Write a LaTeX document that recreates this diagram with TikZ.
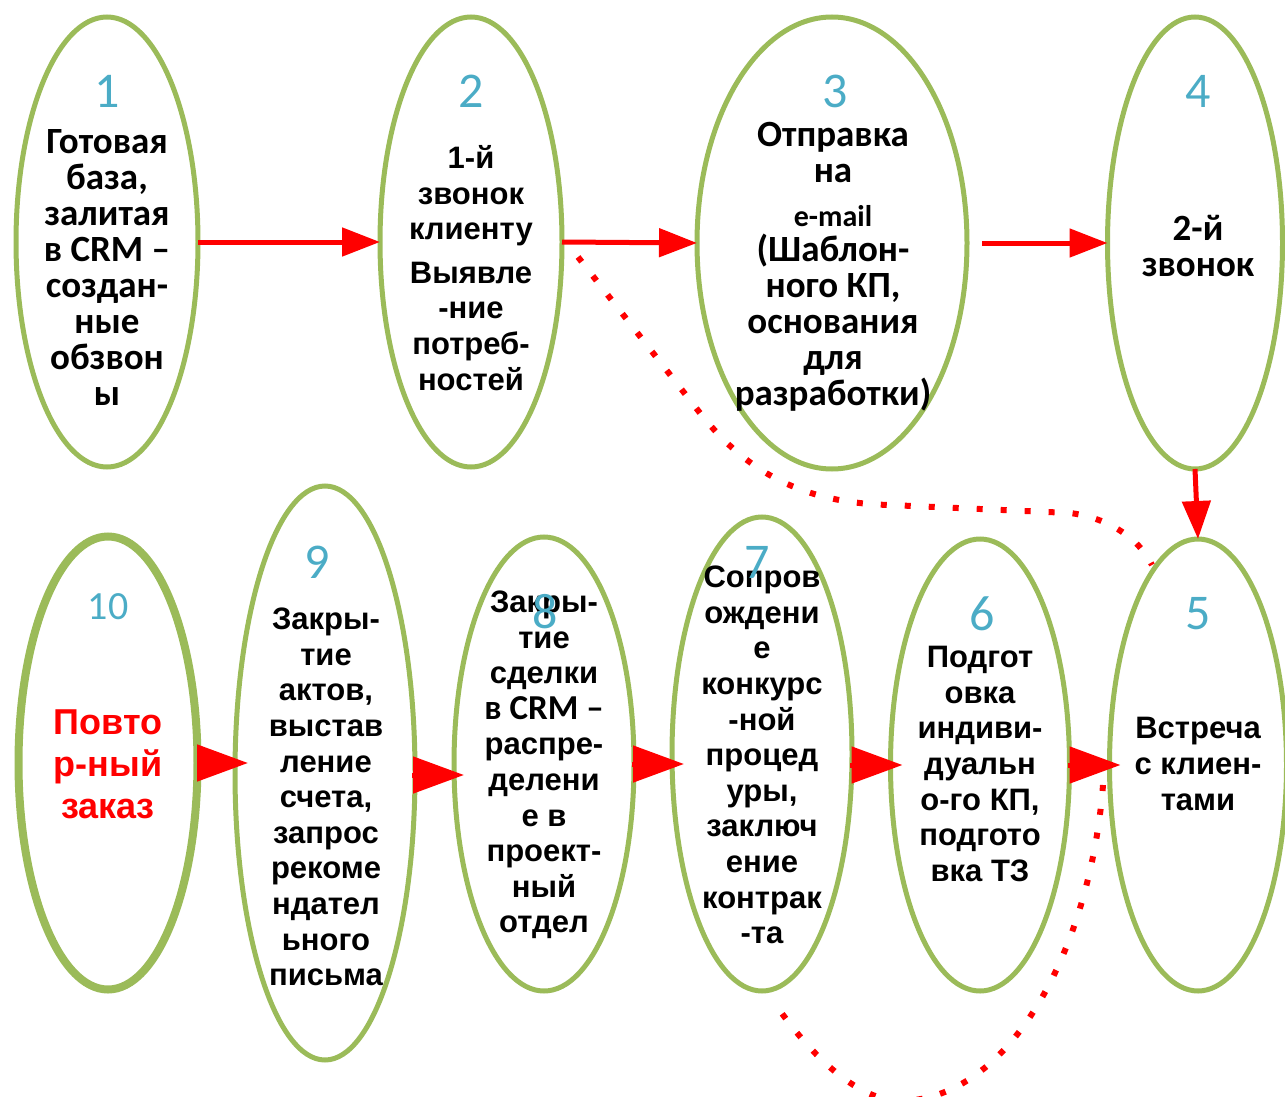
\documentclass[tikz,border=0pt]{standalone}
\usepackage{fontspec}
\setmainfont{Liberation Sans}
\newfontfamily\calfont{Carlito}
\usetikzlibrary{shapes.geometric,arrows.meta}
\definecolor{elgreen}{HTML}{9BBB59}
\definecolor{numblue}{HTML}{4BACC6}
\begin{document}
\begin{tikzpicture}[x=1pt,y=-1pt,
 oval/.style={ellipse, draw=elgreen, line width=5pt, inner sep=0pt, outer sep=0pt},
 num/.style={font=\calfont\fontsize{50}{50}\selectfont, text=numblue, inner sep=0pt},
 atxt/.style={font=\bfseries\fontsize{31}{35.6}\selectfont, align=center, inner sep=0pt},
 ctxt/.style={font=\calfont\bfseries\fontsize{37}{36}\selectfont, align=center, inner sep=0pt},
 toparrow/.style={draw=red, line width=5pt, -{Triangle[length=38pt,width=28pt]}},
 botarrow/.style={draw=red, line width=5pt, -{Triangle[length=51pt,width=36pt]}},
 dotline/.style={draw=red, line width=6pt, dash pattern=on 6pt off 18pt}]
\useasboundingbox (0,0) rectangle (1285,1097);
% ovals
\node[oval, minimum width=182pt, minimum height=450pt] (e1) at (107,242) {};
\node[oval, minimum width=182pt, minimum height=450pt] (e2) at (471,242) {};
\node[oval, minimum width=270pt, minimum height=452pt] (e3) at (832,243) {};
\node[oval, minimum width=175pt, minimum height=452pt] (e4) at (1195,243) {};
\node[oval, minimum width=177pt, minimum height=452pt] (e5) at (1198,765) {};
\node[oval, minimum width=179pt, minimum height=452pt] (e6) at (980,765) {};
\node[oval, minimum width=180pt, minimum height=474pt] (e7) at (762,754) {};
\node[oval, minimum width=180pt, minimum height=454pt] (e8) at (544,764) {};
\node[oval, minimum width=180pt, minimum height=574pt] (e9) at (325,773) {};
\node[oval, line width=8pt, minimum width=179pt, minimum height=453pt] (e10) at (108,763) {};
% numbers
\node[num] (n1) at (107,91) {1};
\node[num] (n2) at (471,91) {2};
\node[num] (n3) at (835,91) {3};
\node[num] (n4) at (1198,91) {4};
\node[num] (n5) at (1198,614) {5};
\node[num] (n6) at (982,614) {6};
\node[num] (n9) at (317,562) {9};
\node[num, font=\calfont\fontsize{40}{40}\selectfont] (n10) at (108,607) {10};
% texts
\node[ctxt] (t1) at (107,268) {Готовая\\база,\\залитая\\в CRM –\\создан-\\ные\\обзвон\\ы};
\node[atxt] (t2) at (471,268) {1-й\\звонок\\клиенту\\[8pt]Выявле\\-ние\\потреб-\\ностей};
\node[ctxt] (t3) at (833,267) {Отправка\\на\\[8pt]{\fontsize{30}{36}\selectfont e-mail}\\[-1pt](Шаблон-\\ного КП,\\основания\\для\\разработки)};
\node[ctxt] (t4) at (1198,246) {2-й\\звонок};
\node[atxt] (t5) at (1198,764) {Встреча\\с клиен-\\тами};
\node[atxt] (t6) at (980,764) {Подгот\\овка\\индиви-\\дуальн\\о-го КП,\\подгото\\вка ТЗ};
\node[atxt] (t7) at (762,755) {Сопров\\ождени\\е\\конкурс\\-ной\\процед\\уры,\\заключ\\ение\\контрак\\-та};
\node[atxt] (t8) at (544,765) {Закры-\\тие\\сделки\\{\calfont\fontsize{35}{36}\selectfont в CRM –}\\распре-\\делени\\е в\\проект-\\ный\\отдел};
\node[atxt] (t9) at (326,797) {Закры-\\тие\\актов,\\выстав\\ление\\счета,\\запрос\\рекоме\\ндател\\ьного\\письма};
\node[atxt, text=red, font=\bfseries\fontsize{36}{42}\selectfont] (t10) at (108,764) {Повто\\р-ный\\заказ};
% numbers overlapping text
\node[num] (n7) at (757,562) {7};
\node[num] (n8) at (545,612) {8};
% top arrows
\draw[toparrow] (e1.east) -- (e2.west);
\draw[toparrow] (e2.east) -- (e3.west);
\draw[toparrow, shorten <=15pt] (e3.east) -- (e4.west);
\draw[toparrow] (e4.south) -- (e5.north);
% bottom arrows
\draw[botarrow] (e10.east) -- ([xshift=13pt]e10.east -| e9.west);
\draw[botarrow] ([xshift=-3pt,yshift=-2pt]e9.east) -- ([xshift=10pt,yshift=-2pt]e9.east -| e8.west);
\draw[botarrow] ([xshift=-2pt]e8.east) -- ([xshift=12pt]e8.east -| e7.west);
\draw[botarrow] ([xshift=-2pt]e7.east |- e6.west) -- ([xshift=12pt]e6.west);
\draw[botarrow] ([xshift=-2pt]e6.east) -- ([xshift=11pt]e6.east -| e5.west);
% dotted curves
\coordinate (ca0) at (578,257);
\coordinate (ca1) at (1152,565);
\coordinate (cb0) at (1103,785);
\coordinate (cb1) at (776,1005);
\draw[dotline] (ca0) -- (700,413) .. controls (745,470) and (800,503) .. (890,505) -- (1070,513) .. controls (1110,518) and (1140,540) .. (ca1);
\draw[dotline] (cb0) .. controls (1090,950) and (1010,1100) .. (900,1101) .. controls (850,1100) and (800,1040) .. (cb1);
\end{tikzpicture}
\end{document}
